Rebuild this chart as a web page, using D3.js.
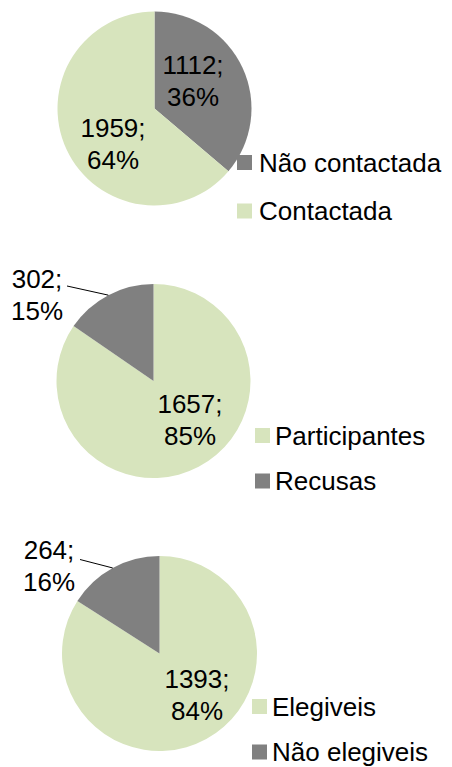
<!DOCTYPE html>
<html>
<head>
<meta charset="utf-8">
<script src="https://cdn.jsdelivr.net/npm/d3@7"></script>
<style>
  html, body { margin: 0; padding: 0; background: #fff; }
  svg { display: block; }
  text { font-family: "Liberation Sans", Arial, sans-serif; fill: #000; }
</style>
</head>
<body>
<svg id="chart" width="452" height="767"></svg>
<script>
// ---- Data ----
const chart1Categories = ["Não contactada", "Contactada"];
const chart1Values = [1112, 1959];

const chart2Categories = ["Participantes", "Recusas"];
const chart2Values = [1657, 302];

const chart3Categories = ["Elegiveis", "Não elegiveis"];
const chart3Values = [1393, 264];

const colorDark = "#808080";
const colorLight = "#D7E4BD";

const chart1Colors = [colorDark, colorLight];
const chart2Colors = [colorLight, colorDark];
const chart3Colors = [colorLight, colorDark];

// ---- Layout ----
const layouts = [
  { cx: 154.5, cy: 108.5, r: 97,
    labels: [ {dx: 38.5, dy: -27.5}, {dx: -41.5, dy: 35.5} ],
    legend: { sx: 237, tx: 259, y0: 162.5, step: 48.5 } },
  { cx: 153.5, cy: 381, r: 97,
    labels: [ {dx: 36.5, dy: 39}, {dx: -116.5, dy: -86, leader: {dx: 30, dy: -9}} ],
    legend: { sx: 255, tx: 275, y0: 435.5, step: 45.5 } },
  { cx: 159.5, cy: 653.5, r: 97.5,
    labels: [ {dx: 37.5, dy: 41}, {dx: -110.5, dy: -88, leader: {dx: 31, dy: -6}} ],
    legend: { sx: 252, tx: 272, y0: 706.5, step: 45.5 } }
];

const charts = [
  { cats: chart1Categories, vals: chart1Values, colors: chart1Colors },
  { cats: chart2Categories, vals: chart2Values, colors: chart2Colors },
  { cats: chart3Categories, vals: chart3Values, colors: chart3Colors }
];

const svg = d3.select("#chart");
const fontSize = 26;
const lineH = 32;
const capHalf = fontSize * 0.716 / 2;
const sq = 15;

charts.forEach((c, i) => {
  const L = layouts[i];
  const total = d3.sum(c.vals);
  const pie = d3.pie().sort(null).value(d => d)(c.vals);
  const arc = d3.arc().innerRadius(0).outerRadius(L.r);
  const color = d3.scaleOrdinal().domain(c.cats).range(c.colors);

  const g = svg.append("g").attr("transform", `translate(${L.cx},${L.cy})`);
  g.selectAll("path.slice").data(pie).enter().append("path")
    .attr("class", "slice")
    .attr("d", arc)
    .attr("fill", (d, j) => color(c.cats[j]));

  // labels
  pie.forEach((d, j) => {
    const lab = L.labels[j];
    const pct = Math.round(d.value / total * 100) + "%";
    const t = g.append("text")
      .attr("text-anchor", "middle")
      .style("font-size", fontSize + "px");
    t.append("tspan").attr("x", lab.dx).attr("y", lab.dy - lineH / 2 + capHalf).text(d.value + ";");
    t.append("tspan").attr("x", lab.dx).attr("y", lab.dy + lineH / 2 + capHalf).text(pct);
    if (lab.leader) {
      const mid = (d.startAngle + d.endAngle) / 2;
      const ex = L.r * Math.sin(mid), ey = -L.r * Math.cos(mid);
      g.append("line")
        .attr("x1", lab.dx + lab.leader.dx).attr("y1", lab.dy + lab.leader.dy)
        .attr("x2", ex).attr("y2", ey)
        .attr("stroke", "#000").attr("stroke-width", 1);
    }
  });

  // legend
  const lg = svg.append("g");
  c.cats.forEach((cat, j) => {
    const yc = L.legend.y0 + j * L.legend.step;
    lg.append("rect")
      .attr("x", L.legend.sx).attr("y", yc - sq / 2)
      .attr("width", sq).attr("height", sq)
      .attr("fill", color(cat));
    lg.append("text")
      .attr("x", L.legend.tx).attr("y", yc + capHalf)
      .style("font-size", fontSize + "px")
      .text(cat);
  });
});
</script>
</body>
</html>
